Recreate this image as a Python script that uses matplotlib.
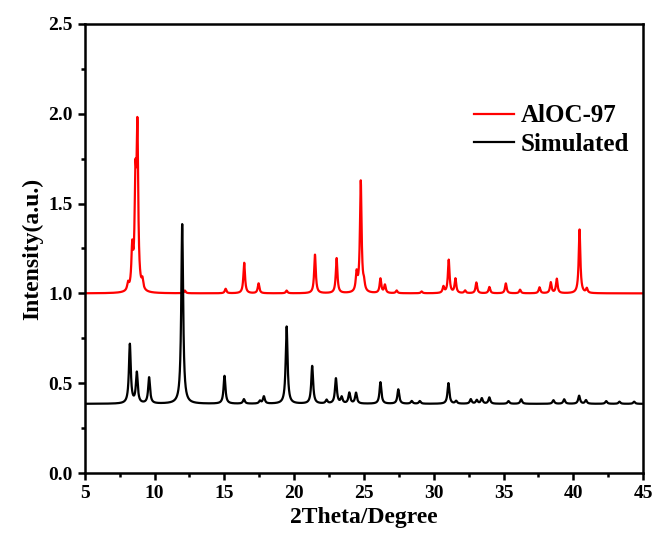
import numpy as np
import matplotlib
matplotlib.use("Agg")
import matplotlib.pyplot as plt
from matplotlib.ticker import MultipleLocator

plt.rcParams['font.family'] = ['Liberation Serif', 'DejaVu Serif']
plt.rcParams['font.weight'] = 'bold'

# peak lists (position in 2theta, height above baseline)
exp_pos = [8.10, 8.40, 8.63, 8.77, 9.13, 12.17, 15.09, 16.42, 17.45, 19.46,
           21.49, 23.04, 24.47, 24.77, 25.00, 26.18, 26.50, 27.34, 29.13,
           30.69, 31.07, 31.55, 32.24, 33.05, 33.98, 35.16, 36.18, 37.57,
           38.38, 38.81, 40.44, 40.96]
exp_h = [0.04, 0.22, 0.55, 0.86, 0.05, 0.015, 0.025, 0.17, 0.055, 0.015,
         0.215, 0.195, 0.10, 0.62, 0.04, 0.08, 0.045, 0.015, 0.01,
         0.035, 0.185, 0.08, 0.015, 0.06, 0.035, 0.055, 0.02, 0.033,
         0.06, 0.08, 0.355, 0.025]
exp_base = 1.0

sim_pos = [8.23, 8.73, 9.61, 11.98, 15.01, 16.40, 17.55, 17.83, 19.46, 21.29,
           22.32, 22.99, 23.40, 23.95, 24.43, 26.18, 27.46, 28.42, 29.00,
           31.05, 31.60, 32.65, 33.08, 33.44, 33.98, 35.35, 36.26, 38.57,
           39.34, 40.41, 40.90, 42.35, 43.30, 44.35]
sim_h = [0.33, 0.17, 0.145, 1.0, 0.155, 0.025, 0.015, 0.04, 0.43, 0.21,
         0.02, 0.14, 0.035, 0.06, 0.06, 0.12, 0.08, 0.015, 0.015,
         0.115, 0.015, 0.025, 0.02, 0.03, 0.035, 0.015, 0.025, 0.02,
         0.025, 0.045, 0.02, 0.015, 0.012, 0.012]
sim_base = 0.385

x = np.linspace(5, 45, 8001)


def pattern(pos, h, base, w):
    y = np.full_like(x, base)
    for p, a in zip(pos, h):
        y += a / (1 + ((x - p) / (w / 2)) ** 2)
    return y


y_exp = pattern(exp_pos, exp_h, exp_base, 0.14)
y_sim = pattern(sim_pos, sim_h, sim_base, 0.16)

fig = plt.figure(figsize=(6.57, 5.44), dpi=100)
ax = fig.add_axes([0.129, 0.1305, 0.850, 0.8255])
ax.plot(x, y_exp, color='#ff0000', lw=1.6, label='AlOC-97')
ax.plot(x, y_sim, color='black', lw=1.6, label='Simulated')

ax.set_xlim(5, 45)
ax.set_ylim(0, 2.5)
ax.xaxis.set_major_locator(MultipleLocator(5))
ax.xaxis.set_minor_locator(MultipleLocator(2.5))
ax.yaxis.set_major_locator(MultipleLocator(0.5))
ax.yaxis.set_minor_locator(MultipleLocator(0.25))
ax.tick_params(which='major', direction='out', length=5, width=1.8, labelsize=14)
ax.tick_params(which='minor', direction='out', length=3, width=1.8)
for s in ax.spines.values():
    s.set_linewidth(1.8)

ax.set_xlabel('2Theta/Degree', fontsize=17, fontweight='bold')
ax.set_ylabel('Intensity(a.u.)', fontsize=17, fontweight='bold')

ax.legend(loc='upper left', bbox_to_anchor=(0.656, 0.871), frameon=False,
          fontsize=18, handlelength=1.6, handletextpad=0.3, labelspacing=0.22)

fig.savefig('out.png', dpi=100)
